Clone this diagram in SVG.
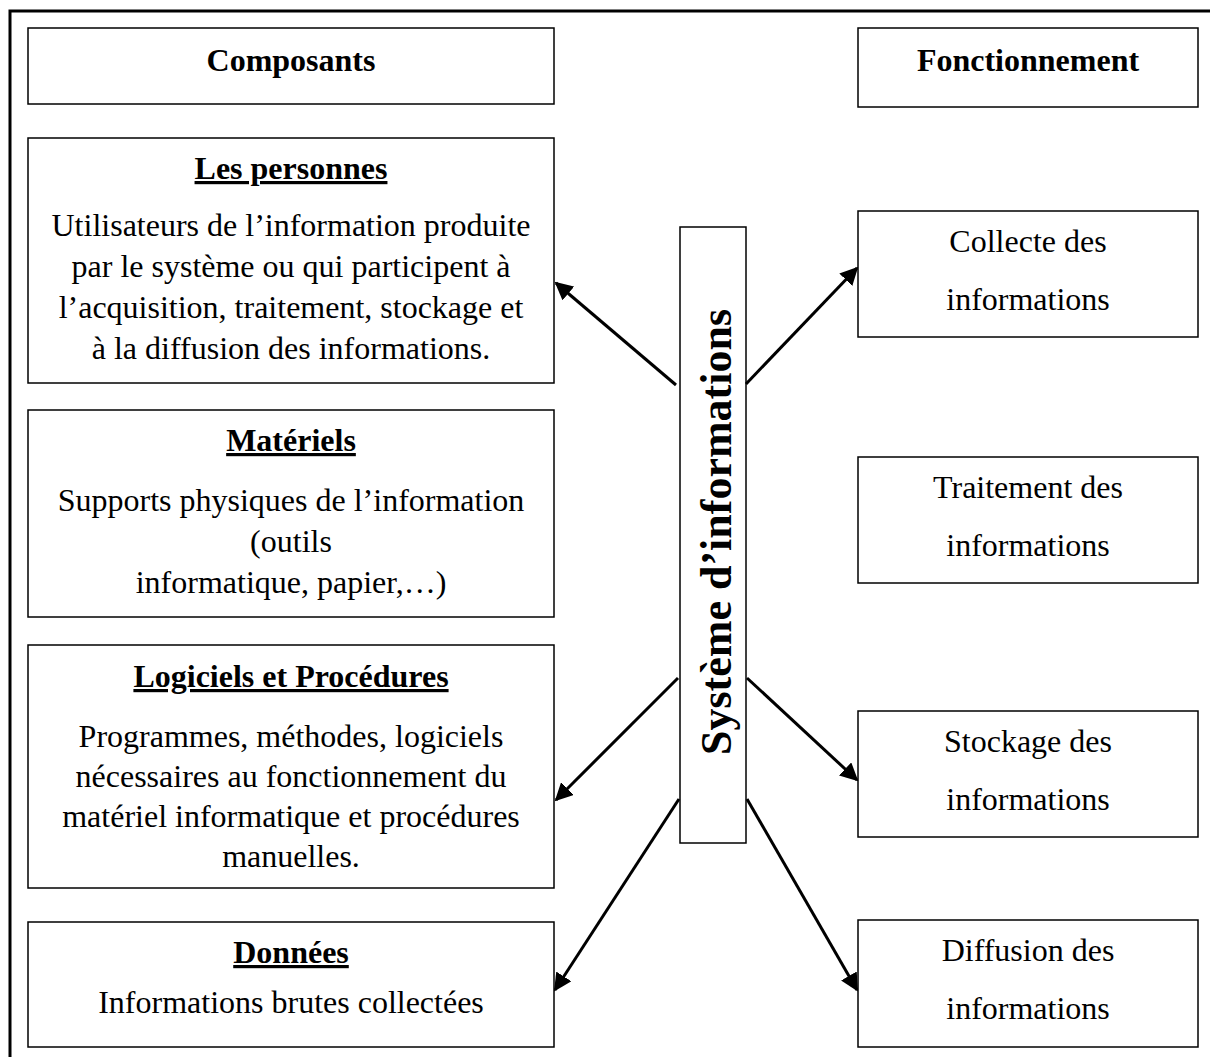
<svg xmlns="http://www.w3.org/2000/svg" width="1210" height="1057" viewBox="0 0 1210 1057">
  <style>
    .box { fill: #ffffff; stroke: #000000; stroke-width: 1.5; }
    .frame { fill: none; stroke: #000000; stroke-width: 3; }
    .t { font-family: "Liberation Serif", "Times New Roman", serif; fill: #000000; text-anchor: middle; }
    .head { font-size: 32px; font-weight: bold; }
    .title { font-size: 32px; font-weight: bold; text-decoration: underline; }
    .body { font-size: 32px; }
    .link { stroke: #000000; stroke-width: 3; fill: none; marker-end: url(#arrow); }
  </style>
  <defs>
    <marker id="arrow" viewBox="0 0 10 10" refX="9" refY="5" markerWidth="6" markerHeight="6" orient="auto" markerUnits="strokeWidth">
      <path d="M0,0 L10,5 L0,10 Z" fill="#000000"/>
    </marker>
  </defs>

  <rect width="1210" height="1057" fill="#ffffff"/>
  <!-- outer frame (left and top edges) -->
  <path class="frame" d="M10,1057 L10,11 L1210,11"/>

  <!-- column headers -->
  <g id="composants">
    <rect class="box" x="28" y="28" width="526" height="76"/>
    <text class="t head" x="291" y="71">Composants</text>
  </g>
  <g id="fonctionnement">
    <rect class="box" x="858" y="28" width="340" height="79"/>
    <text class="t head" x="1028" y="71">Fonctionnement</text>
  </g>

  <!-- left column: components -->
  <g id="personnes">
    <rect class="box" x="28" y="138" width="526" height="245"/>
    <text class="t title" x="291" y="179">Les personnes</text>
    <text class="t body" x="291" y="236">Utilisateurs de l’information produite</text>
    <text class="t body" x="291" y="277">par le système ou qui participent à</text>
    <text class="t body" x="291" y="318">l’acquisition, traitement, stockage et</text>
    <text class="t body" x="291" y="359">à la diffusion des informations.</text>
  </g>
  <g id="materiels">
    <rect class="box" x="28" y="410" width="526" height="207"/>
    <text class="t title" x="291" y="451">Matériels</text>
    <text class="t body" x="291" y="511">Supports physiques de l’information</text>
    <text class="t body" x="291" y="552">(outils</text>
    <text class="t body" x="291" y="593">informatique, papier,…)</text>
  </g>
  <g id="logiciels">
    <rect class="box" x="28" y="645" width="526" height="243"/>
    <text class="t title" x="291" y="687">Logiciels et Procédures</text>
    <text class="t body" x="291" y="747">Programmes, méthodes, logiciels</text>
    <text class="t body" x="291" y="787">nécessaires au fonctionnement du</text>
    <text class="t body" x="291" y="827">matériel informatique et procédures</text>
    <text class="t body" x="291" y="867">manuelles.</text>
  </g>
  <g id="donnees">
    <rect class="box" x="28" y="922" width="526" height="125"/>
    <text class="t title" x="291" y="963">Données</text>
    <text class="t body" x="291" y="1013">Informations brutes collectées</text>
  </g>

  <!-- central node -->
  <g id="systeme">
    <rect class="box" x="680" y="227" width="66" height="616"/>
    <text class="t head" style="font-size:44px" transform="translate(731,532) rotate(-90)">Système d’informations</text>
  </g>

  <!-- right column: functions -->
  <g id="collecte">
    <rect class="box" x="858" y="211" width="340" height="126"/>
    <text class="t body" x="1028" y="252">Collecte des</text>
    <text class="t body" x="1028" y="310">informations</text>
  </g>
  <g id="traitement">
    <rect class="box" x="858" y="457" width="340" height="126"/>
    <text class="t body" x="1028" y="498">Traitement des</text>
    <text class="t body" x="1028" y="556">informations</text>
  </g>
  <g id="stockage">
    <rect class="box" x="858" y="711" width="340" height="126"/>
    <text class="t body" x="1028" y="752">Stockage des</text>
    <text class="t body" x="1028" y="810">informations</text>
  </g>
  <g id="diffusion">
    <rect class="box" x="858" y="920" width="340" height="127"/>
    <text class="t body" x="1028" y="961">Diffusion des</text>
    <text class="t body" x="1028" y="1019">informations</text>
  </g>

  <!-- connectors -->
  <g id="connectors">
    <line class="link" x1="676" y1="385" x2="556" y2="283"/>
    <line class="link" x1="746" y1="384" x2="857" y2="268"/>
    <line class="link" x1="678" y1="678" x2="556" y2="800"/>
    <line class="link" x1="747" y1="678" x2="857" y2="780"/>
    <line class="link" x1="679" y1="799" x2="555" y2="990"/>
    <line class="link" x1="747" y1="799" x2="857" y2="990"/>
  </g>
</svg>
